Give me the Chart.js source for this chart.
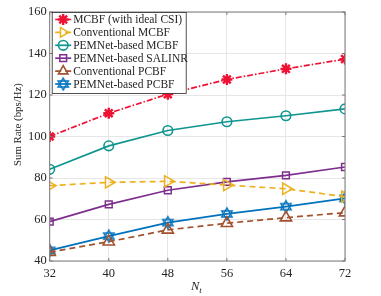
<!DOCTYPE html>
<html>
<head>
<meta charset="utf-8">
<script src="https://cdn.jsdelivr.net/npm/chart.js@4"></script>
<style>
  html, body { margin: 0; padding: 0; background: #fff; }
  #wrap { width: 381px; height: 296px; }
</style>
</head>
<body>
<div id="wrap"><canvas id="chartRate" width="381" height="296"></canvas></div>
<script>
const nt = [32, 40, 48, 56, 64, 72];
const mcbfIdeal = [100, 111.2, 120.4, 127.5, 132.6, 137.3];
const convMcbf = [76.3, 77.9, 78.4, 76.6, 74.8, 71];
const pemMcbf = [84.2, 95.5, 102.9, 107.1, 110, 113.3];
const pemSalinr = [59, 67.3, 74.1, 78.1, 81.3, 85.3];
const convPcbf = [44.3, 49.3, 55, 58.2, 60.9, 63.3];
const pemPcbf = [45.1, 52, 58.5, 62.7, 66.2, 70.2];
const yTicks = [40, 60, 80, 100, 120, 140, 160];
const xTicks = [32, 40, 48, 56, 64, 72];

const SERIF = "'Liberation Serif', 'DejaVu Serif', serif";
const C = {
    red: "#ee1133",
    orange: "#edb120",
    teal: "#0f968f",
    purple: "#7e2f8e",
    brown: "#a2522d",
    blue: "#0072bd",
};

function hexagram(color, r) {
    const s = Math.ceil(r * 2 + 4);
    const cv = document.createElement("canvas");
    cv.width = s; cv.height = s;
    const g = cv.getContext("2d");
    g.strokeStyle = color;
    g.lineWidth = 1.4;
    const cx = s / 2, cy = s / 2;
    [-Math.PI / 2, Math.PI / 2].forEach(a0 => {
        g.beginPath();
        for (let i = 0; i < 3; i++) {
            const a = a0 + i * 2 * Math.PI / 3;
            const px = cx + r * Math.cos(a), py = cy + r * Math.sin(a);
            i ? g.lineTo(px, py) : g.moveTo(px, py);
        }
        g.closePath();
        g.stroke();
    });
    return cv;
}

const pts = arr => nt.map((x, i) => ({ x, y: arr[i] }));

const datasets = [
    { label: "MCBF (with ideal CSI)", data: pts(mcbfIdeal), borderColor: C.red, borderDash: [6, 2, 1.5, 2],
      pointStyle: "star", pointRadius: 5.5, pointBorderWidth: 2.4, pointRotation: 0 },
    { label: "Conventional MCBF", data: pts(convMcbf), borderColor: C.orange, borderDash: [6, 4],
      pointStyle: "triangle", pointRadius: 6.5, pointRotation: 90, pointBorderWidth: 1.5 },
    { label: "PEMNet-based MCBF", data: pts(pemMcbf), borderColor: C.teal,
      pointStyle: "circle", pointRadius: 4.8, pointBorderWidth: 1.6 },
    { label: "PEMNet-based SALINR", data: pts(pemSalinr), borderColor: C.purple,
      pointStyle: "rect", pointRadius: 4.8, pointBorderWidth: 1.5 },
    { label: "Conventional PCBF", data: pts(convPcbf), borderColor: C.brown, borderDash: [6, 4],
      pointStyle: "triangle", pointRadius: 6.5, pointBorderWidth: 1.6 },
    { label: "PEMNet-based PCBF", data: pts(pemPcbf), borderColor: C.blue,
      pointStyle: hexagram(C.blue, 6), pointRadius: 6, pointBorderWidth: 1.4 },
].map(d => ({
    ...d,
    backgroundColor: "rgba(0,0,0,0)",
    pointBackgroundColor: "rgba(0,0,0,0)",
    pointBorderColor: d.borderColor,
    borderWidth: 1.7,
    tension: 0,
}));

const framePlugin = {
    id: "frame",
    beforeDraw(chart) {
        const ctx = chart.ctx;
        ctx.save();
        ctx.fillStyle = "#fff";
        ctx.fillRect(0, 0, chart.width, chart.height);
        ctx.restore();
    },
    afterDatasetsDraw(chart) {
        const { ctx, chartArea: a, scales } = chart;
        ctx.save();
        // axes box
        ctx.strokeStyle = "#7a7a7a";
        ctx.lineWidth = 1;
        ctx.strokeRect(a.left, a.top, a.right - a.left, a.bottom - a.top);
        // inward tick marks
        ctx.beginPath();
        xTicks.forEach(v => {
            const x = scales.x.getPixelForValue(v);
            ctx.moveTo(x, a.bottom); ctx.lineTo(x, a.bottom - 3);
            ctx.moveTo(x, a.top); ctx.lineTo(x, a.top + 3);
        });
        yTicks.forEach(v => {
            const y = scales.y.getPixelForValue(v);
            ctx.moveTo(a.left, y); ctx.lineTo(a.left + 3, y);
            ctx.moveTo(a.right, y); ctx.lineTo(a.right - 3, y);
        });
        ctx.stroke();

        // axis titles
        ctx.fillStyle = "#262626";
        ctx.textBaseline = "middle";
        ctx.textAlign = "center";
        ctx.save();
        ctx.translate(18, 124.5);
        ctx.rotate(-Math.PI / 2);
        ctx.font = "10.8px " + SERIF;
        ctx.fillText("Sum Rate (bps/Hz)", 0, 0);
        ctx.restore();
        const cx = (a.left + a.right) / 2;
        ctx.font = "italic 12.5px " + SERIF;
        ctx.textAlign = "right";
        ctx.fillText("N", cx + 2, 287);
        ctx.font = "italic 9px " + SERIF;
        ctx.textAlign = "left";
        ctx.fillText("t", cx + 2, 291);

        // legend box
        const lx = a.left + 2.5, ly = a.top + 0.5, lw = 134, lh = 81, rowH = 12.9;
        ctx.fillStyle = "#fff";
        ctx.fillRect(lx, ly, lw, lh);
        ctx.strokeStyle = "#262626";
        ctx.lineWidth = 0.8;
        ctx.strokeRect(lx, ly, lw, lh);
        ctx.font = "11.5px " + SERIF;
        ctx.textAlign = "left";
        chart.data.datasets.forEach((d, i) => {
            const y = ly + 7 + i * rowH;
            ctx.save();
            ctx.strokeStyle = d.borderColor;
            ctx.lineWidth = 1.7;
            ctx.setLineDash(d.borderDash || []);
            ctx.beginPath();
            ctx.moveTo(lx + 3, y); ctx.lineTo(lx + 19, y);
            ctx.stroke();
            ctx.setLineDash([]);
            ctx.strokeStyle = d.pointBorderColor;
            ctx.fillStyle = "rgba(0,0,0,0)";
            ctx.lineWidth = d.pointBorderWidth;
            Chart.helpers.drawPoint(ctx, {
                pointStyle: d.pointStyle, radius: Math.min(d.pointRadius, 5.5),
                rotation: d.pointRotation || 0, borderWidth: d.pointBorderWidth,
            }, lx + 11, y);
            ctx.restore();
            ctx.fillStyle = "#262626";
            ctx.fillText(d.label, lx + 21, y + 0.5);
        });
        ctx.restore();
    },
};

new Chart(document.getElementById("chartRate"), {
    type: "line",
    data: { datasets },
    options: {
        responsive: false,
        animation: false,
        devicePixelRatio: 1,
        layout: { padding: { top: 12, right: 36, left: 0, bottom: 0 } },
        scales: {
            x: {
                type: "linear", min: 32, max: 72,
                afterFit: s => { s.height = 35; },
                afterBuildTicks: s => { s.ticks = xTicks.map(v => ({ value: v })); },
                grid: { color: "#e6e6e6", drawTicks: false },
                border: { display: false },
                ticks: { padding: 5, color: "#262626", font: { family: SERIF, size: 12.5 } },
            },
            y: {
                min: 40, max: 160,
                afterFit: s => { s.width = 49.7; },
                afterBuildTicks: s => { s.ticks = yTicks.map(v => ({ value: v })); },
                grid: { color: "#e6e6e6", drawTicks: false },
                border: { display: false },
                ticks: { padding: 3, color: "#262626", font: { family: SERIF, size: 12.5 } },
            },
        },
        plugins: { legend: { display: false }, tooltip: { enabled: false } },
    },
    plugins: [framePlugin],
});
</script>
</body>
</html>
